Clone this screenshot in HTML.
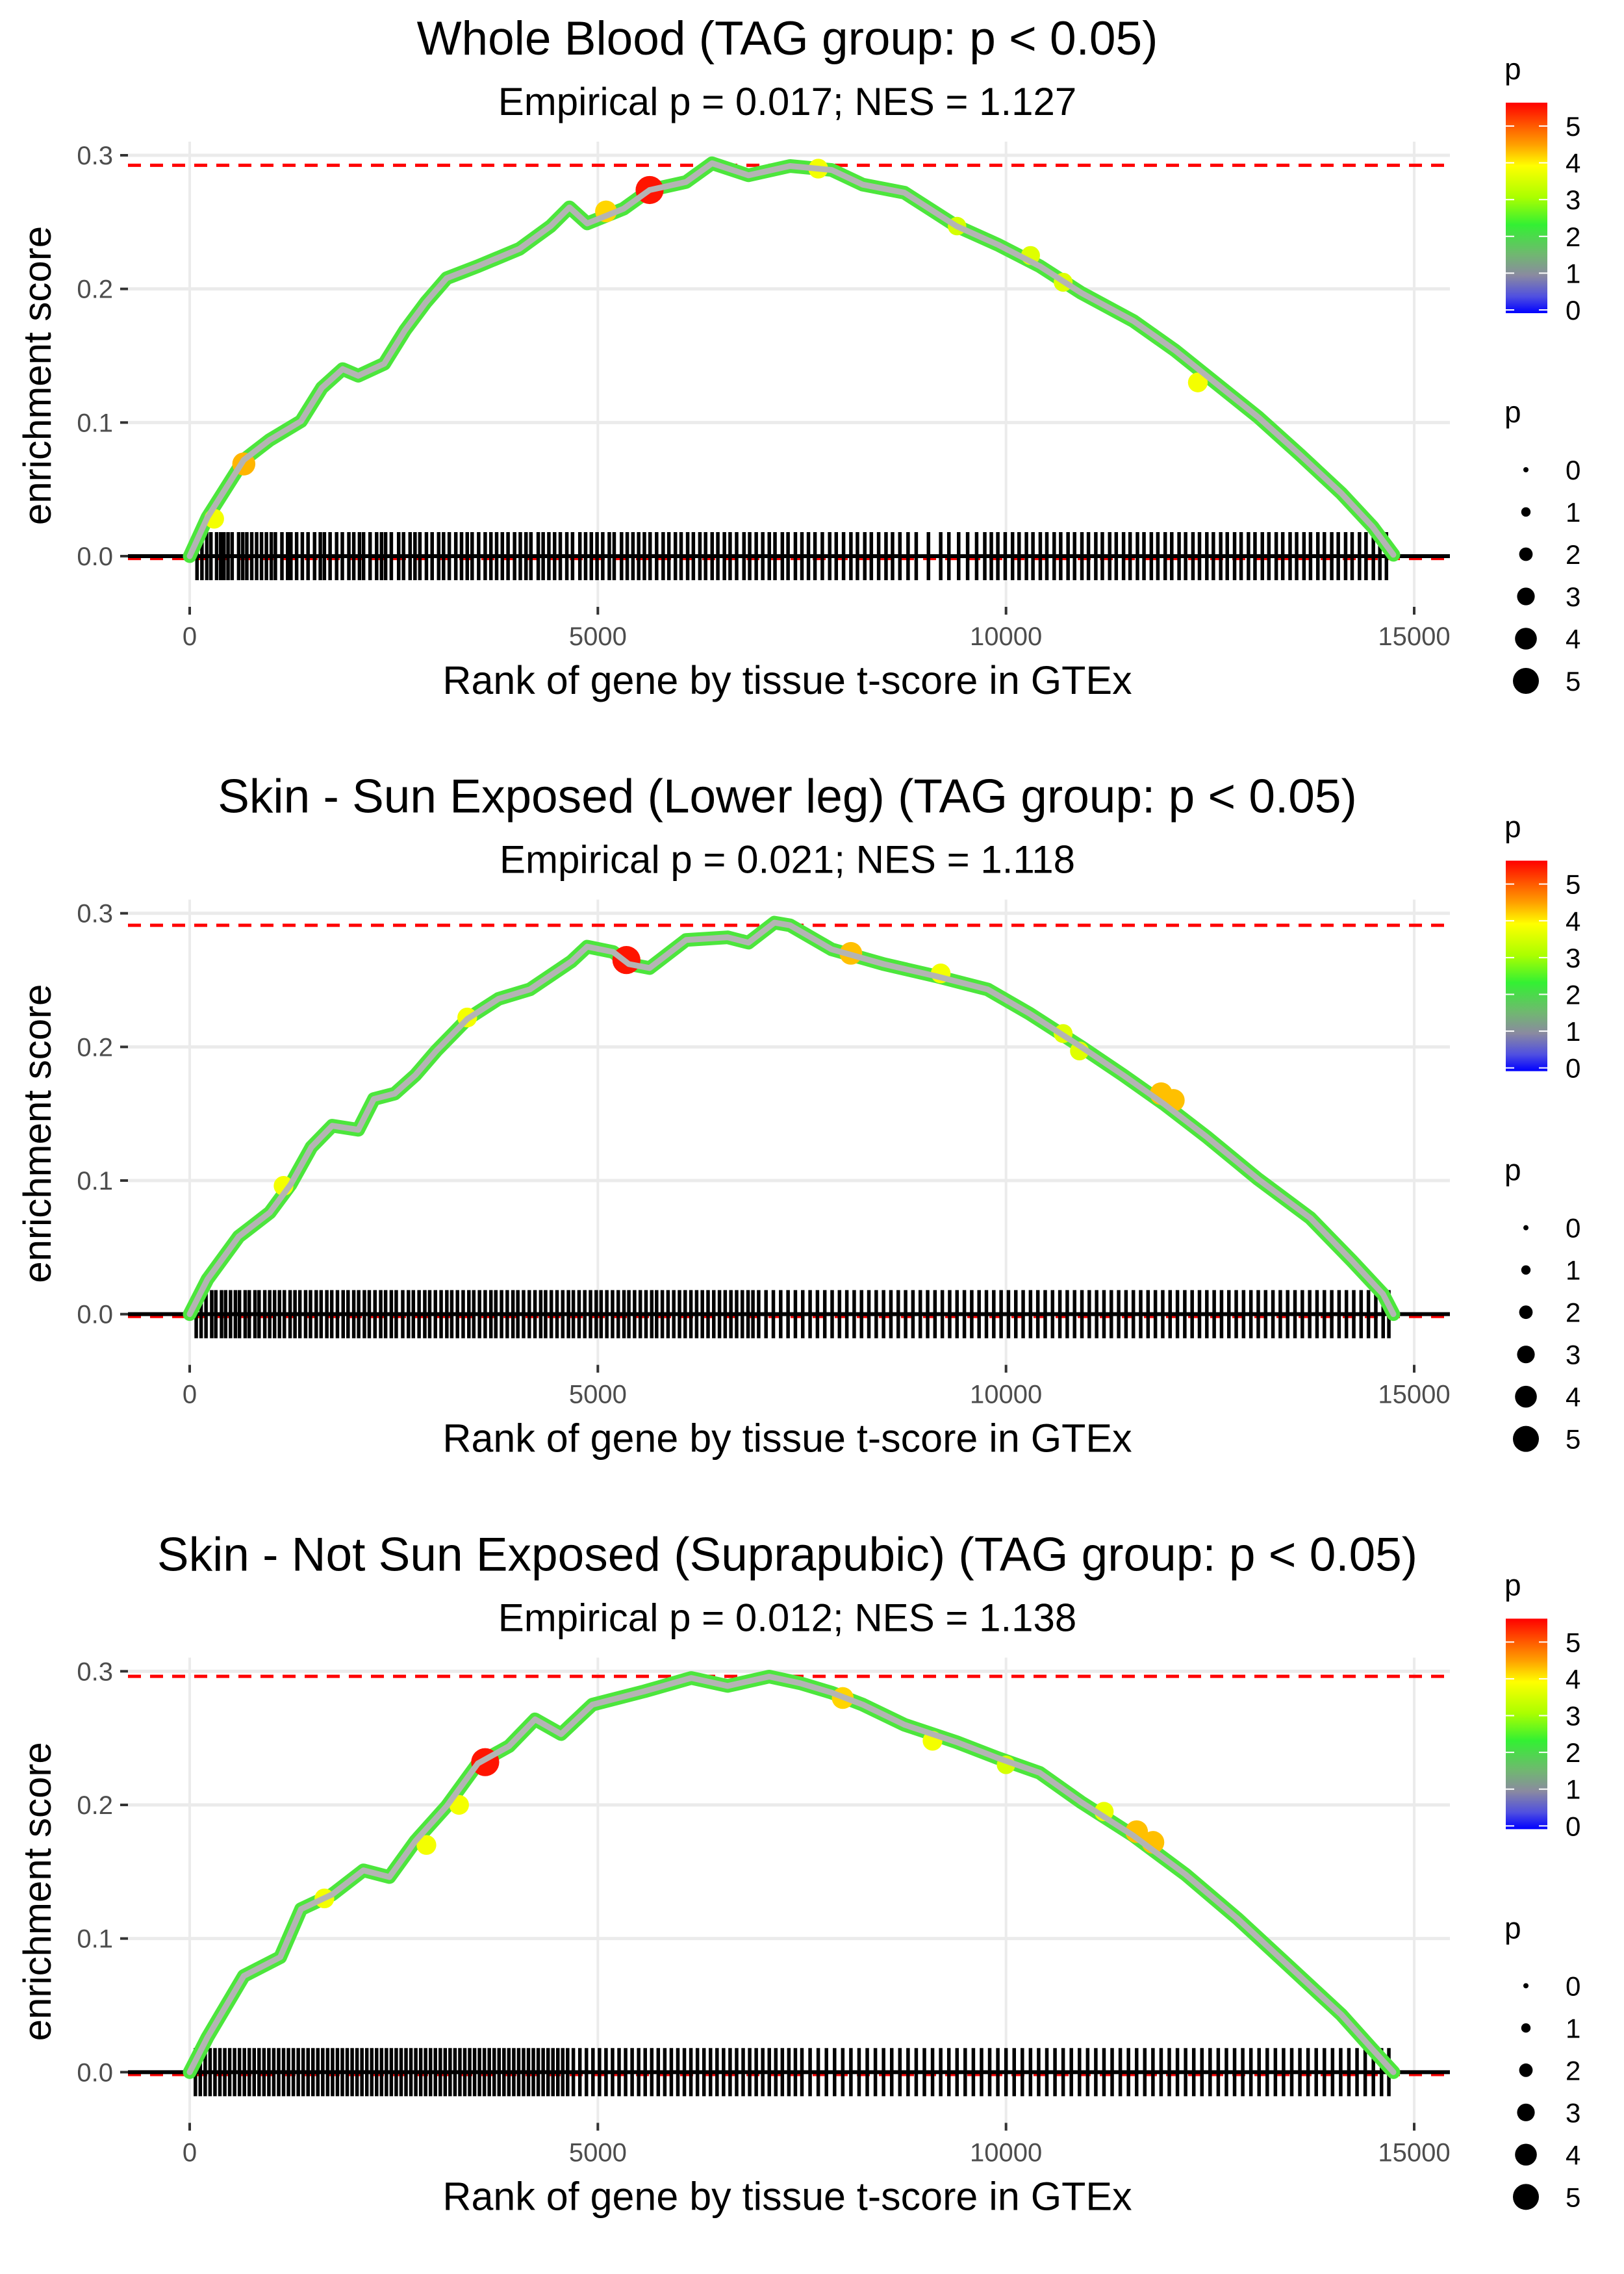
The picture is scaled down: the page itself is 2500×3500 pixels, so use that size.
<!DOCTYPE html>
<html><head><meta charset="utf-8"><style>
html,body{margin:0;padding:0;background:#fff;}
svg{display:block;font-family:"Liberation Sans",sans-serif;}
</style></head><body>
<svg id="fig" width="2500" height="3500" viewBox="0 0 2500 3500" xmlns="http://www.w3.org/2000/svg">
<defs>
<linearGradient id="cbar" x1="0" y1="0" x2="0" y2="1">
<stop offset="0" stop-color="#ff0000"/>
<stop offset="0.11" stop-color="#ff5a00"/>
<stop offset="0.2" stop-color="#ffa000"/>
<stop offset="0.3" stop-color="#ffff00"/>
<stop offset="0.45" stop-color="#aaff00"/>
<stop offset="0.58" stop-color="#33f033"/>
<stop offset="0.72" stop-color="#70b870"/>
<stop offset="0.82" stop-color="#8a8aa0"/>
<stop offset="0.92" stop-color="#5050e0"/>
<stop offset="1" stop-color="#0000ff"/>
</linearGradient>
</defs>
</svg>
<script>
// ---- data ----
const titles = ["Whole Blood (TAG group: p < 0.05)","Skin - Sun Exposed (Lower leg) (TAG group: p < 0.05)","Skin - Not Sun Exposed (Suprapubic) (TAG group: p < 0.05)"];
const subtitles = ["Empirical p = 0.017; NES = 1.127","Empirical p = 0.021; NES = 1.118","Empirical p = 0.012; NES = 1.138"];
const maxES = [0.2925, 0.291, 0.2962];
const xTicks = [0,5000,10000,15000];
const yTicks = [0,0.1,0.2,0.3];
const yTickLabels = ["0.0","0.1","0.2","0.3"];
const legendValues = [0,1,2,3,4,5];

const es1Rank = [0,217,663,981,1364,1619,1874,2065,2383,2638,2893,3148,3530,4040,4422,4652,4869,5315,5634,6080,6399,6845,7354,7864,8246,8756,9011,9393,9903,10413,10922,11560,12070,12579,13089,13599,14108,14490,14745];
const es1Val = [0,0.029,0.072,0.087,0.101,0.126,0.140,0.135,0.144,0.169,0.190,0.208,0.217,0.230,0.247,0.261,0.249,0.260,0.274,0.280,0.294,0.285,0.292,0.289,0.278,0.272,0.262,0.247,0.233,0.217,0.197,0.176,0.154,0.129,0.104,0.076,0.047,0.022,0.001];
const es2Rank = [0,217,600,981,1236,1491,1746,2065,2256,2511,2766,3020,3403,3785,4167,4677,4869,5188,5379,5634,6080,6590,6845,7163,7354,7864,8501,9138,9775,10285,10922,11432,11942,12452,13089,13726,14236,14618,14745];
const es2Val = [0,0.026,0.058,0.076,0.097,0.125,0.141,0.138,0.161,0.165,0.179,0.197,0.221,0.236,0.243,0.264,0.275,0.271,0.262,0.259,0.280,0.282,0.278,0.293,0.291,0.273,0.262,0.253,0.243,0.225,0.200,0.179,0.157,0.133,0.101,0.072,0.040,0.015,0];
const es3Rank = [0,217,663,1109,1364,1746,2129,2447,2766,3148,3530,3913,4231,4550,4932,5570,6144,6590,7099,7481,7864,8246,8756,9393,9903,10413,10922,11560,12197,12834,13471,14108,14490,14745];
const es3Val = [0,0.026,0.072,0.086,0.122,0.133,0.151,0.146,0.173,0.199,0.231,0.244,0.264,0.253,0.275,0.285,0.295,0.289,0.296,0.291,0.284,0.275,0.260,0.247,0.235,0.224,0.202,0.177,0.148,0.115,0.079,0.043,0.017,0];

const hi1Rank = [300,663,5100,5634,7700,9400,10300,10700,12350];
const hi1Val = [0.028,0.069,0.258,0.274,0.290,0.247,0.225,0.205,0.130];
const hi1P = [3.5,4.3,4.0,5.5,3.5,3.2,3.3,3.3,3.5];
const hi2Rank = [1150,3400,5350,8100,9200,10700,10900,11900,12050];
const hi2Val = [0.096,0.222,0.265,0.270,0.255,0.210,0.197,0.165,0.160];
const hi2P = [3.5,3.5,5.5,4.2,3.5,3.3,3.3,4.2,4.2];
const hi3Rank = [1650,2900,3300,3620,8000,9100,10000,11200,11600,11800];
const hi3Val = [0.130,0.170,0.200,0.232,0.280,0.248,0.230,0.195,0.180,0.172];
const hi3P = [3.5,3.5,3.5,5.5,4.0,3.5,3.2,3.4,4.2,4.2];

const rug1 = [90,150,210,260,330,380,420,470,520,600,650,700,760,820,880,940,1000,1050,1130,1200,1240,1310,1380,1450,1530,1600,1650,1720,1800,1870,1950,2010,2080,2130,2210,2290,2350,2400,2470,2560,2620,2700,2760,2820,2900,2970,3050,3110,3180,3260,3330,3400,3460,3540,3620,3690,3760,3830,3900,3980,4050,4120,4180,4270,4330,4400,4470,4540,4620,4690,4780,4850,4920,4990,5060,5140,5200,5290,5360,5430,5500,5570,5640,5720,5800,5870,5950,6020,6100,6170,6250,6320,6400,6470,6550,6620,6700,6790,6860,6940,7020,7100,7170,7260,7330,7420,7500,7580,7660,7750,7840,7920,8010,8100,8180,8270,8350,8440,8530,8610,8700,8800,8900,9050,9200,9300,9420,9530,9640,9740,9820,9900,9990,10080,10160,10250,10330,10420,10500,10590,10670,10760,10840,10930,11010,11100,11180,11270,11350,11440,11520,11610,11690,11780,11860,11950,12030,12120,12200,12290,12370,12460,12540,12630,12710,12800,12880,12970,13050,13140,13220,13310,13390,13480,13560,13650,13730,13820,13900,13990,14070,14160,14240,14330,14410,14500,14580,14660];
const rug2 = [80,140,200,270,320,390,440,500,560,610,680,730,800,850,920,980,1040,1100,1160,1230,1290,1350,1420,1480,1550,1610,1680,1740,1810,1880,1940,2010,2070,2140,2200,2270,2340,2400,2470,2530,2610,2680,2740,2810,2880,2940,3010,3080,3150,3210,3280,3350,3420,3480,3550,3620,3690,3750,3820,3890,3960,4020,4090,4160,4230,4300,4360,4430,4500,4570,4640,4700,4770,4840,4910,4980,5040,5110,5180,5250,5320,5380,5450,5520,5590,5660,5720,5790,5860,5930,6000,6070,6140,6210,6280,6350,6420,6490,6560,6630,6700,6770,6840,6900,6970,7060,7150,7240,7330,7420,7510,7600,7690,7780,7870,7960,8050,8140,8230,8320,8410,8500,8590,8680,8770,8860,8950,9040,9130,9220,9310,9400,9490,9580,9670,9760,9850,9940,10030,10120,10210,10300,10390,10480,10570,10660,10750,10840,10930,11020,11110,11200,11290,11380,11470,11560,11650,11740,11830,11920,12010,12100,12190,12280,12370,12460,12550,12640,12730,12820,12910,13000,13090,13180,13270,13360,13450,13540,13630,13720,13810,13900,13990,14080,14170,14260,14350,14440,14530,14620,14690];
const rug3 = [70,130,190,250,310,370,430,490,550,610,670,730,790,850,910,970,1030,1090,1150,1210,1270,1330,1390,1450,1510,1570,1630,1690,1750,1810,1870,1930,1990,2050,2110,2170,2230,2290,2350,2410,2470,2530,2590,2650,2710,2770,2830,2890,2950,3010,3070,3130,3190,3250,3310,3370,3430,3490,3550,3610,3670,3730,3790,3850,3910,3970,4030,4090,4150,4210,4270,4330,4390,4450,4510,4570,4630,4700,4780,4860,4940,5020,5100,5180,5260,5340,5420,5500,5580,5660,5740,5820,5900,5980,6060,6140,6220,6300,6380,6460,6540,6620,6700,6780,6860,6940,7020,7100,7180,7260,7340,7420,7500,7600,7700,7800,7900,8000,8100,8200,8300,8400,8500,8600,8700,8800,8900,9000,9100,9200,9300,9400,9500,9600,9700,9800,9900,10000,10100,10200,10300,10400,10500,10600,10700,10800,10900,11000,11100,11200,11300,11400,11500,11600,11700,11800,11900,12000,12100,12200,12300,12400,12500,12600,12700,12800,12900,13000,13100,13200,13300,13400,13500,13600,13700,13800,13900,14000,14100,14200,14300,14400,14500,14600,14690];

const esRanks = [es1Rank, es2Rank, es3Rank];
const esVals = [es1Val, es2Val, es3Val];
const hiRanks = [hi1Rank, hi2Rank, hi3Rank];
const hiVals = [hi1Val, hi2Val, hi3Val];
const hiPs = [hi1P, hi2P, hi3P];
const rugs = [rug1, rug2, rug3];

// ---- layout ----
const NS = "http://www.w3.org/2000/svg";
const svg = document.getElementById('fig');
const PANEL_H = 3500/3;
const X0 = 292, X15 = 2177;
const XR = 2232;
const CX = 1212;
const xScale = r => X0 + (r/15000)*(X15-X0);
const Y0 = 856, YS = (856-239)/0.3;
const yScale = v => Y0 - v*YS;
const pColor = p => {
  const stops = [[0,[0,0,255]],[0.5,[80,80,224]],[1,[138,138,160]],[1.5,[112,184,112]],[2,[51,240,51]],[2.8,[170,255,0]],[3.6,[255,255,0]],[4.5,[255,160,0]],[5,[255,90,0]],[5.64,[255,0,0]]];
  for (let i=1;i<stops.length;i++){ if (p<=stops[i][0]){ const a=stops[i-1],b=stops[i]; const t=(p-a[0])/(b[0]-a[0]); const c=a[1].map((x,k)=>Math.round(x+(b[1][k]-x)*t)); return `rgb(${c.join(',')})`; } }
  return 'rgb(255,0,0)';
};
const pRadius = p => 4 + p*3.2;
function mk(tag, attrs, parent){ const e=document.createElementNS(NS,tag); for(const k in attrs) e.setAttribute(k,attrs[k]); parent.appendChild(e); return e; }

for (let i=0;i<3;i++){
  const g = mk('g',{transform:`translate(0,${(i*PANEL_H).toFixed(2)})`}, svg);
  
  

  const t = mk('text',{x:CX,y:84,'text-anchor':'middle','font-size':73,fill:'#000'}, g);
  t.textContent = titles[i];
  
  
  const st = mk('text',{x:CX,y:177,'text-anchor':'middle','font-size':60,fill:'#000'}, g);
  st.textContent = subtitles[i];
  
  

  yTicks.forEach((v,k)=>{
    const l = mk('line',{x1:197,x2:XR,y1:yScale(v),y2:yScale(v),stroke:'#ebebeb','stroke-width':5}, g);
    
    
    const tk = mk('line',{x1:185,x2:197,y1:yScale(v),y2:yScale(v),stroke:'#333','stroke-width':4}, g);
    
    
    const lb = mk('text',{x:174,y:yScale(v)+14,'text-anchor':'end','font-size':40,fill:'#4d4d4d'}, g);
    lb.textContent = yTickLabels[k];
    
    
  });
  xTicks.forEach(r=>{
    const l = mk('line',{x1:xScale(r),x2:xScale(r),y1:218,y2:934,stroke:'#ebebeb','stroke-width':4}, g);
    
    
    const tk = mk('line',{x1:xScale(r),x2:xScale(r),y1:934,y2:946,stroke:'#333','stroke-width':4}, g);
    
    
    const lb = mk('text',{x:xScale(r),y:993,'text-anchor':'middle','font-size':40,fill:'#4d4d4d'}, g);
    lb.textContent = String(r);
    
    
  });

  const xl = mk('text',{x:CX,y:1068,'text-anchor':'middle','font-size':61,fill:'#000'}, g);
  xl.textContent = 'Rank of gene by tissue t-score in GTEx';
  
  
  const yl = mk('text',{x:0,y:0,'text-anchor':'middle','font-size':60,fill:'#000',transform:'translate(78,578) rotate(-90)'}, g);
  yl.textContent = 'enrichment score';
  
  

  const md = mk('line',{x1:197,x2:XR,y1:yScale(maxES[i]),y2:yScale(maxES[i]),stroke:'#ff0000','stroke-width':5,'stroke-dasharray':'20 14'}, g);
  
  
  const zd = mk('line',{x1:197,x2:XR,y1:yScale(-0.002),y2:yScale(-0.002),stroke:'#ff0000','stroke-width':4,'stroke-dasharray':'20 14'}, g);
  
  

  const rg = mk('g',{}, g);
  
  
  rugs[i].forEach(r=>{
    const l = mk('line',{x1:xScale(r),x2:xScale(r),y1:yScale(0.018),y2:yScale(-0.018),stroke:'#000','stroke-width':5.5}, rg);
    
    
  });

  const zl = mk('line',{x1:197,x2:XR,y1:yScale(0),y2:yScale(0),stroke:'#000','stroke-width':6}, g);
  
  

  const pts = esRanks[i].map((r,k)=>`${xScale(r).toFixed(1)},${yScale(esVals[i][k]).toFixed(1)}`).join(' ');
  const outer = mk('polyline',{points:pts,fill:'none',stroke:'#4ce63c','stroke-width':21,'stroke-linejoin':'round','stroke-linecap':'round'}, g);
  
  
  hiRanks[i].forEach((r,k)=>{
    const c = mk('circle',{cx:xScale(r),cy:yScale(hiVals[i][k]),r:pRadius(hiPs[i][k]),fill:pColor(hiPs[i][k])}, g);
    
    
  });
  const inner = mk('polyline',{points:pts,fill:'none',stroke:'#b4b4b4','stroke-width':9,'stroke-linejoin':'round','stroke-linecap':'round'}, g);
  
  

  const lt = mk('text',{x:2316,y:122,'font-size':46,fill:'#000'}, g);
  lt.textContent = 'p';
  
  
  const cb = mk('rect',{x:2318,y:158,width:64,height:324,fill:'url(#cbar)'}, g);
  
  
  legendValues.forEach(v=>{
    const yy = 477 - v*56.6;
    mk('line',{x1:2318,x2:2331,y1:yy,y2:yy,stroke:'#fff','stroke-width':2}, g);
    mk('line',{x1:2369,x2:2382,y1:yy,y2:yy,stroke:'#fff','stroke-width':2}, g);
    const lb = mk('text',{x:2410,y:yy+15,'font-size':42,fill:'#000'}, g);
    lb.textContent = String(v);
    
    
  });
  const st2 = mk('text',{x:2316,y:650,'font-size':46,fill:'#000'}, g);
  st2.textContent = 'p';
  
  
  legendValues.forEach((v,k)=>{
    const yy = 723 + k*65;
    const c = mk('circle',{cx:2349,cy:yy,r:pRadius(v),fill:'#000'}, g);
    
    
    const lb = mk('text',{x:2410,y:yy+15,'font-size':42,fill:'#000'}, g);
    lb.textContent = String(v);
    
    
  });
}
</script>
</body></html>
